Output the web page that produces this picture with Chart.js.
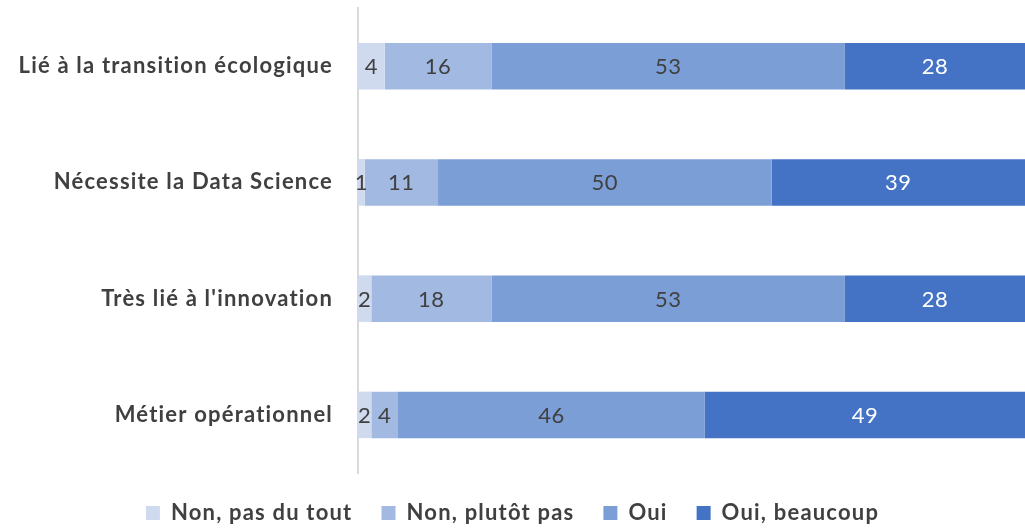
<!DOCTYPE html>
<html>
<head>
<meta charset="utf-8">
<script src="https://cdn.jsdelivr.net/npm/chart.js@4.4.1/dist/chart.umd.min.js"></script>
<style>
  html, body { margin:0; padding:0; background:#fff; }
  #wrap { position:relative; width:1025px; height:528px; }
</style>
</head>
<body>
<div id="wrap"><canvas id="chart"></canvas></div>
<script>
const categories = ['Lié à la transition écologique', 'Nécessite la Data Science', "Très lié à l'innovation", 'Métier opérationnel'];
const seriesNames = ['Non, pas du tout', 'Non, plutôt pas', 'Oui', 'Oui, beaucoup'];
const pasDuTout   = [4, 1, 2, 2];
const plutotPas   = [16, 11, 18, 4];
const oui         = [53, 50, 53, 46];
const beaucoup    = [28, 39, 28, 49];
const seriesColors = ['#CFDAEF', '#A2B9E1', '#7C9ED6', '#4472C4'];
const labelColors  = ['#404040', '#404040', '#404040', '#FFFFFF'];

const FONT = 'Lato, "Open Sans", sans-serif';

// wider letter spacing like the original office rendering
const spacing = {
    id: 'spacing',
    beforeUpdate(chart) { chart.ctx.letterSpacing = '1.2px'; },
    beforeLayout(chart) { chart.ctx.letterSpacing = '1.2px'; },
    beforeDraw(chart) { chart.ctx.letterSpacing = '1.2px'; }
};

// draws the value in the middle of each segment
const barValues = {
    id: 'barValues',
    afterDatasetsDraw(chart) {
        const ctx = chart.ctx;
        const area = chart.chartArea;
        ctx.save();
        ctx.letterSpacing = '0.5px';
        ctx.font = '22px ' + FONT;
        ctx.textAlign = 'center';
        ctx.textBaseline = 'middle';
        chart.data.datasets.forEach((ds, i) => {
            const meta = chart.getDatasetMeta(i);
            meta.data.forEach((bar, j) => {
                const right = Math.min(bar.x, area.right);
                const cx = (right + bar.base) / 2;
                ctx.fillStyle = labelColors[i];
                ctx.fillText(String(ds.data[j]), cx, bar.y + 1);
            });
        });
        ctx.restore();
    }
};

const all = [pasDuTout, plutotPas, oui, beaucoup];

new Chart(document.getElementById('chart'), {
    type: 'bar',
    data: {
        labels: categories,
        datasets: all.map((d, i) => ({
            label: seriesNames[i],
            data: d,
            backgroundColor: seriesColors[i],
            borderWidth: 0,
            categoryPercentage: 1,
            barPercentage: 0.4
        }))
    },
    options: {
        indexAxis: 'y',
        responsive: true,
        maintainAspectRatio: false,
        animation: false,
        layout: { padding: { top: 8, left: 0, right: 0, bottom: 0 } },
        plugins: {
            tooltip: { enabled: false },
            legend: {
                position: 'bottom',
                maxHeight: 55,
                labels: {
                    font: { family: FONT, size: 22, weight: 'bold' },
                    color: '#404040',
                    boxWidth: 14,
                    boxHeight: 14,
                    padding: 29
                }
            }
        },
        scales: {
            x: { display: false, stacked: true, min: 0, max: 100 },
            y: {
                stacked: true,
                afterFit(scale) {
                    scale.width = 358;
                    scale.paddingTop = 0;
                    scale.paddingBottom = 0;
                },
                grid: { display: false, drawTicks: false },
                border: { display: true, color: '#D9D9D9', width: 2 },
                ticks: {
                    padding: 25,
                    color: '#404040',
                    font: { family: FONT, size: 22, weight: 'bold' }
                }
            }
        }
    },
    plugins: [spacing, barValues]
});
</script>
</body>
</html>
